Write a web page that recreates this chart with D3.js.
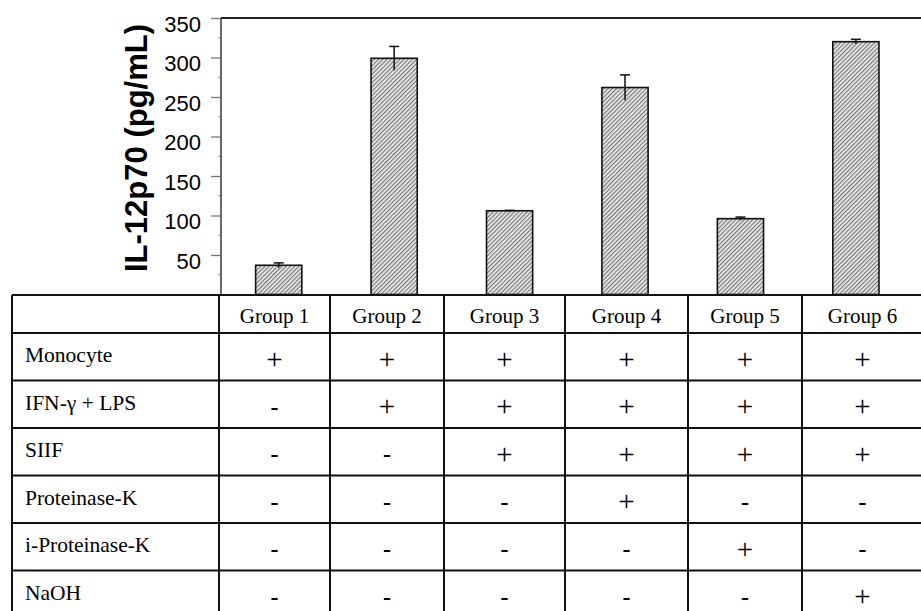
<!DOCTYPE html>
<html>
<head>
<meta charset="utf-8">
<script src="https://cdn.jsdelivr.net/npm/d3@7"></script>
<style>
  html, body { margin: 0; padding: 0; background: #fff; }
  svg { display: block; }
</style>
</head>
<body>
<svg id="chart" width="921" height="611"></svg>
<script>
// IL-12p70 production per treatment group
const groups = ["Group 1", "Group 2", "Group 3", "Group 4", "Group 5", "Group 6"];
const il12 = [37, 299, 106, 262, 96, 320];
const il12Err = [3, 15, 0.5, 16, 2, 3];
const yTicks = [50, 100, 150, 200, 250, 300, 350];
const yLabel = "IL-12p70 (pg/mL)";

// Treatment table rows and +/- entries per group
const treatments = ["Monocyte", "IFN-γ + LPS", "SIIF", "Proteinase-K", "i-Proteinase-K", "NaOH"];
const treatmentMatrix = [
  ["+", "+", "+", "+", "+", "+"],
  ["-", "+", "+", "+", "+", "+"],
  ["-", "-", "+", "+", "+", "+"],
  ["-", "-", "-", "+", "-", "-"],
  ["-", "-", "-", "-", "+", "-"],
  ["-", "-", "-", "-", "-", "+"]
];

const svg = d3.select("#chart");
const W = 921, H = 611;

// plot frame
const plot = { left: 221, right: 913.6, top: 18, bottom: 294.5 };

const x = d3.scaleBand()
  .domain(groups)
  .range([plot.left, plot.right])
  .paddingInner(0.6)
  .paddingOuter(0.3);

const y = d3.scaleLinear()
  .domain([0, 350])
  .range([plot.bottom, plot.top]);

// hatch fill for the bars
const defs = svg.append("defs");
const pat = defs.append("pattern")
  .attr("id", "hatch")
  .attr("patternUnits", "userSpaceOnUse")
  .attr("width", 3)
  .attr("height", 3)
  .attr("patternTransform", "rotate(45)");
pat.append("rect").attr("width", 3).attr("height", 3).attr("fill", "#eeeeee");
pat.append("line")
  .attr("x1", 0.7).attr("y1", 0).attr("x2", 0.7).attr("y2", 3)
  .attr("stroke", "#4a4a4a").attr("stroke-width", 0.9);

// minor ticks every 25
const minor = d3.range(25, 350, 50);
svg.append("g").selectAll("line").data(minor).join("line")
  .attr("x1", plot.left - 3).attr("x2", plot.left)
  .attr("y1", d => y(d)).attr("y2", d => y(d))
  .attr("stroke", "#999").attr("stroke-width", 1);

// y axis
const yAxis = svg.append("g")
  .attr("transform", `translate(${plot.left},0)`)
  .call(d3.axisLeft(y).tickValues(yTicks).tickSize(10).tickPadding(10));
yAxis.select(".domain").remove();
yAxis.selectAll(".tick line").attr("stroke", "#777").attr("stroke-width", 1.3);
yAxis.selectAll(".tick text")
  .attr("font-family", "Liberation Sans, Arial, sans-serif")
  .attr("font-size", 22)
  .attr("fill", "#000")
  .attr("dy", "0.6em");

// axis line and top frame line
svg.append("line")
  .attr("x1", plot.left).attr("x2", plot.left)
  .attr("y1", plot.top).attr("y2", plot.bottom)
  .attr("stroke", "#444").attr("stroke-width", 1.6);
svg.append("line")
  .attr("x1", plot.left).attr("x2", W)
  .attr("y1", plot.top).attr("y2", plot.top)
  .attr("stroke", "#222").attr("stroke-width", 2);

// y axis title
svg.append("text")
  .attr("transform", `translate(147, 148) rotate(-90)`)
  .attr("text-anchor", "middle")
  .attr("font-family", "Liberation Sans, Arial, sans-serif")
  .attr("font-weight", "bold")
  .attr("font-size", 31)
  .attr("fill", "#000")
  .text(yLabel);

// bars
svg.append("g").selectAll("rect").data(groups).join("rect")
  .attr("x", d => x(d))
  .attr("width", x.bandwidth())
  .attr("y", (d, i) => y(il12[i]))
  .attr("height", (d, i) => y(0) - y(il12[i]))
  .attr("fill", "url(#hatch)")
  .attr("stroke", "#111")
  .attr("stroke-width", 1.6);

// error bars
const eb = svg.append("g").attr("stroke", "#111").attr("stroke-width", 1.5);
groups.forEach((g, i) => {
  const cx = x(g) + x.bandwidth() / 2;
  const hi = y(il12[i] + il12Err[i]);
  const lo = y(il12[i] - il12Err[i]);
  eb.append("line").attr("x1", cx).attr("x2", cx).attr("y1", hi).attr("y2", lo);
  eb.append("line").attr("x1", cx - 5).attr("x2", cx + 5).attr("y1", hi).attr("y2", hi);
});

// treatment table
const colEdges = [12, 219, 330, 444, 565, 688, 802, W + 2];
const rowEdges = [295, 333, 380.5, 428, 475.5, 523, 570.5, 618];
const tbl = svg.append("g");
const serif = "Liberation Serif, Times New Roman, serif";

// horizontal rules
tbl.selectAll("line.h").data(rowEdges).join("line")
  .attr("class", "h")
  .attr("x1", colEdges[0]).attr("x2", W)
  .attr("y1", d => d).attr("y2", d => d)
  .attr("stroke", "#111").attr("stroke-width", 2);
// vertical rules
tbl.selectAll("line.v").data(colEdges.slice(0, -1)).join("line")
  .attr("class", "v")
  .attr("x1", d => d).attr("x2", d => d)
  .attr("y1", rowEdges[0]).attr("y2", H)
  .attr("stroke", "#111").attr("stroke-width", 2);

const colCenter = i => (colEdges[i + 1] + colEdges[i + 2]) / 2;

// header row
tbl.selectAll("text.head").data(groups).join("text")
  .attr("class", "head")
  .attr("x", (d, i) => colCenter(i))
  .attr("y", rowEdges[0] + 28)
  .attr("text-anchor", "middle")
  .attr("font-family", serif)
  .attr("font-size", 21)
  .attr("fill", "#000")
  .text(d => d);

// row labels
tbl.selectAll("text.lab").data(treatments).join("text")
  .attr("class", "lab")
  .attr("x", 25)
  .attr("y", (d, r) => rowEdges[r + 1] + 29)
  .attr("font-family", serif)
  .attr("font-size", 21.5)
  .attr("fill", "#000")
  .text(d => d);

// +/- entries
treatmentMatrix.forEach((row, r) => {
  row.forEach((v, c) => {
    const top = rowEdges[r + 1];
    if (v === "+") {
      tbl.append("text")
        .attr("x", colCenter(c))
        .attr("y", top + 26)
        .attr("dy", "0.33em")
        .attr("text-anchor", "middle")
        .attr("font-family", serif)
        .attr("font-size", 29)
        .attr("fill", "#000")
        .text("+");
    } else {
      tbl.append("text")
        .attr("x", colCenter(c))
        .attr("y", top + 28)
        .attr("dy", "0.27em")
        .attr("text-anchor", "middle")
        .attr("font-family", serif)
        .attr("font-weight", "bold")
        .attr("font-size", 24)
        .attr("fill", "#000")
        .text("-");
    }
  });
});
</script>
</body>
</html>
